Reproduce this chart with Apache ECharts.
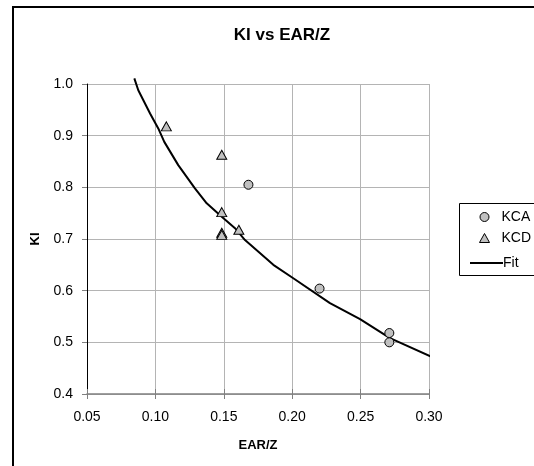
<!DOCTYPE html>
<html>
<head>
<meta charset="utf-8">
<script src="https://cdn.jsdelivr.net/npm/echarts@6/dist/echarts.min.js"></script>
<style>
  html, body { margin: 0; padding: 0; background: #fff; }
  #chart { width: 534px; height: 466px; }
</style>
</head>
<body>
<div id="chart"></div>
<script>
// Measured points, EAR/Z vs KI
const kcaEar = [0.168, 0.220, 0.271, 0.271];
const kcaKi  = [0.805, 0.604, 0.518, 0.500];

const kcdEar = [0.108, 0.1485, 0.1485, 0.1485, 0.1485, 0.161];
const kcdKi  = [0.918, 0.863, 0.752, 0.712, 0.708, 0.718];

// Fitted curve, sampled along its length
const fitEar = [0.0846, 0.0875, 0.0961, 0.1021, 0.1065, 0.1167, 0.1289, 0.1375, 0.1485,
                0.1582, 0.1655, 0.1862, 0.2008, 0.2276, 0.2496, 0.2715, 0.3044];
const fitKi  = [1.011, 0.988, 0.943, 0.914, 0.888, 0.843, 0.798, 0.769, 0.743,
                0.721, 0.698, 0.650, 0.624, 0.576, 0.545, 0.508, 0.469];

const xTicks = [0.05, 0.10, 0.15, 0.20, 0.25, 0.30];
const yTicks = [0.4, 0.5, 0.6, 0.7, 0.8, 0.9, 1.0];

const zip = (a, b) => a.map((v, i) => [v, b[i]]);
const FONT = 'Liberation Sans, Arial, sans-serif';
const legendText = { fontFamily: FONT, fontSize: 14, color: '#000' };
const markerStyle = { color: '#c0c0c0', borderColor: '#000', borderWidth: 1, opacity: 1 };

const chart = echarts.init(document.getElementById('chart'), null, { renderer: 'canvas' });

chart.setOption({
  animation: false,
  backgroundColor: '#ffffff',
  textStyle: { fontFamily: FONT, color: '#000' },
  title: {
    text: 'KI vs EAR/Z',
    left: 277,
    textAlign: 'center',
    top: 22,
    textStyle: { fontFamily: FONT, fontSize: 17, fontWeight: 'bold', color: '#000' }
  },
  graphic: [
    // outer chart frame
    { type: 'rect', shape: { x: 13, y: 7, width: 700, height: 700 },
      style: { fill: 'none', stroke: '#000', lineWidth: 2 }, z: 100 },
    // legend box
    { type: 'rect', shape: { x: 459.5, y: 203.5, width: 120, height: 72 },
      style: { fill: '#fff', stroke: '#000', lineWidth: 1 }, z: 1 }
  ],
  legend: [{
    // marker entries
    orient: 'vertical',
    left: 474,
    top: 205,
    itemWidth: 10,
    itemHeight: 9,
    itemGap: 7,
    textStyle: Object.assign({ padding: [0, 0, 0, 7] }, legendText),
    itemStyle: markerStyle,
    data: [
      { name: 'KCA', icon: 'circle' },
      { name: 'KCD', icon: 'triangle' }
    ],
    z: 5
  }, {
    // fitted line entry
    orient: 'vertical',
    left: 465,
    top: 251,
    itemWidth: 33,
    itemHeight: 2,
    textStyle: Object.assign({ padding: [0, 0, 0, -5] }, legendText),
    data: [{ name: 'Fit', icon: 'rect' }],
    z: 5
  }],
  grid: { left: 87, right: 105, top: 84, bottom: 72, containLabel: false },
  xAxis: [{
    type: 'value',
    min: 0.05, max: 0.30, interval: 0.05,
    name: 'EAR/Z',
    nameLocation: 'middle',
    nameGap: 45,
    nameTextStyle: { fontFamily: FONT, fontSize: 13, fontWeight: 'bold', color: '#000' },
    axisLine: { lineStyle: { color: '#808080', width: 1.5 } },
    axisTick: { show: true, length: 5, lineStyle: { color: '#808080' } },
    axisLabel: { fontFamily: FONT, fontSize: 14, color: '#000', margin: 16,
                 formatter: v => v.toFixed(2) },
    splitLine: { show: true, lineStyle: { color: '#b4b4b4', width: 1 } }
  }, {
    // inner half of the crossing tick marks
    type: 'value',
    position: 'bottom',
    min: 0.05, max: 0.30, interval: 0.05,
    axisLine: { show: false },
    axisTick: { show: true, inside: true, length: 5, lineStyle: { color: '#808080' } },
    axisLabel: { show: false },
    splitLine: { show: false }
  }],
  yAxis: {
    type: 'value',
    min: 0.4, max: 1.0, interval: 0.1,
    name: 'KI',
    nameLocation: 'middle',
    nameGap: 45,
    nameTextStyle: { fontFamily: FONT, fontSize: 13, fontWeight: 'bold', color: '#000' },
    axisLine: { show: true, lineStyle: { color: '#000', width: 1 } },
    axisTick: { show: true, length: 5, lineStyle: { color: '#808080' } },
    axisLabel: { fontFamily: FONT, fontSize: 14, color: '#000', margin: 14,
                 formatter: v => v.toFixed(1) },
    splitLine: { show: true, lineStyle: { color: '#b4b4b4', width: 1 } }
  },
  series: [
    {
      name: 'Fit',
      type: 'line',
      data: zip(fitEar, fitKi),
      symbol: 'none',
      clip: false,
      smooth: false,
      lineStyle: { color: '#000', width: 2 },
      itemStyle: { color: '#000' },
      z: 3
    },
    {
      name: 'KCA',
      type: 'scatter',
      data: zip(kcaEar, kcaKi),
      symbol: 'circle',
      symbolSize: 9,
      itemStyle: markerStyle,
      z: 4
    },
    {
      name: 'KCD',
      type: 'scatter',
      data: zip(kcdEar, kcdKi),
      symbol: 'triangle',
      symbolSize: [10, 9],
      itemStyle: markerStyle,
      z: 4
    }
  ]
});
</script>
</body>
</html>
